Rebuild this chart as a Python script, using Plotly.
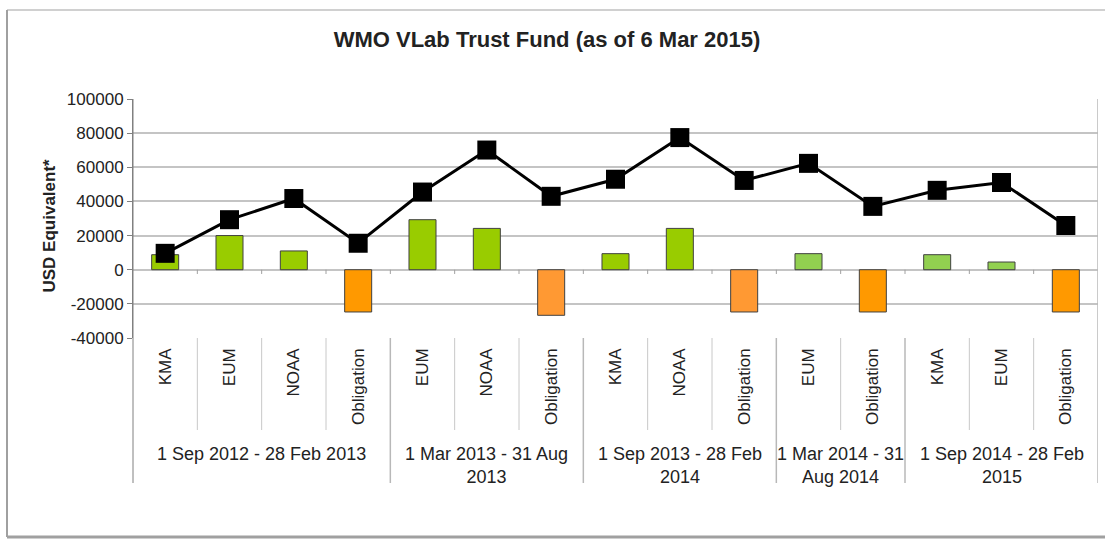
import plotly.graph_objects as go

# ---- data ----
categories = ["KMA", "EUM", "NOAA", "Obligation", "EUM", "NOAA", "Obligation",
              "KMA", "NOAA", "Obligation", "EUM", "Obligation", "KMA", "EUM", "Obligation"]
amounts = [8800, 20000, 11000, -24750, 29300, 24200, -26700,
           9400, 24200, -24750, 9400, -24750, 8800, 4500, -24750]
balance = [9600, 29300, 41700, 15500, 45500, 70100, 43000,
           53000, 77400, 52300, 62300, 37100, 46500, 51100, 25900]
periods = ["1 Sep 2012 - 28 Feb 2013", "1 Mar 2013 - 31 Aug<br>2013",
           "1 Sep 2013 - 28 Feb<br>2014", "1 Mar 2014 - 31<br>Aug 2014",
           "1 Sep 2014 - 28 Feb<br>2015"]
period_sizes = [4, 3, 3, 2, 3]
y_ticks = [-40000, -20000, 0, 20000, 40000, 60000, 80000, 100000]
y_tick_labels = [str(v) for v in y_ticks]

# ---- styles ----
bar_colors = ["#99cc00", "#99cc00", "#99cc00", "#ff9900", "#99cc00", "#99cc00", "#ff9933",
              "#99cc00", "#99cc00", "#ff9933", "#92d050", "#ff9900", "#92d050", "#92d050", "#ff9900"]
FONT = "Liberation Sans, Arial, sans-serif"
TXT = "#222222"

# plot area in pixels: left 133, right 1098, top 99, bottom 338
L, R, T, B = 133, 1098, 99, 338
PW, PH = R - L, B - T


def py(p):
    return (B - p) / PH


def px(p):
    return (p - L) / PW


x = list(range(len(categories)))

fig = go.Figure()
fig.add_trace(go.Bar(x=x, y=amounts, width=0.42,
                     marker=dict(color=bar_colors, line=dict(color="#404040", width=1)),
                     showlegend=False))
fig.add_trace(go.Scatter(x=x, y=balance, mode="lines+markers",
                         line=dict(color="black", width=3),
                         marker=dict(symbol="square", size=19, color="black"),
                         showlegend=False))

shapes = []
bounds = []
acc = 0
for s in period_sizes:
    acc += s
    bounds.append(acc)
for i in range(1, len(categories) + 1):
    xb = i - 0.5
    if i in bounds:
        shapes.append(dict(type="line", xref="x", yref="paper", x0=xb, x1=xb,
                           y0=0 if i < len(categories) else 1, y1=py(483),
                           line=dict(color="#b8b8b8", width=1.5)))
    else:
        shapes.append(dict(type="line", xref="x", yref="paper", x0=xb, x1=xb,
                           y0=0, y1=py(430), line=dict(color="#c8c8c8", width=1)))
    if i < len(categories):
        shapes.append(dict(type="line", xref="x", yref="y", x0=xb, x1=xb,
                           y0=0, y1=-2500, line=dict(color="#a0a0a0", width=1)))
# left axis extension
shapes.append(dict(type="line", xref="paper", yref="paper", x0=0, x1=0,
                   y0=1, y1=py(483), line=dict(color="#808080", width=1)))
# outer border
shapes.append(dict(type="line", xref="paper", yref="paper", x0=px(7), x1=px(1110),
                   y0=py(10), y1=py(10), line=dict(color="#d0d0d0", width=2)))
shapes.append(dict(type="line", xref="paper", yref="paper", x0=px(7), x1=px(7),
                   y0=py(10), y1=py(537), line=dict(color="#a0a0a0", width=2)))
shapes.append(dict(type="line", xref="paper", yref="paper", x0=px(7), x1=px(1110),
                   y0=py(537), y1=py(537), line=dict(color="#a0a0a0", width=3)))

annotations = []
start = 0
for label, s in zip(periods, period_sizes):
    center = start + (s - 1) / 2
    annotations.append(dict(x=center, xref="x", y=py(442), yref="paper",
                            text=label, showarrow=False, yanchor="top", xanchor="center",
                            font=dict(family=FONT, size=18, color=TXT)))
    start += s
annotations.append(dict(x=px(37), xref="paper", y=py(226), yref="paper",
                        text="<b>USD Equivalent*</b>", textangle=-90, showarrow=False,
                        font=dict(family=FONT, size=17, color=TXT)))

fig.update_layout(
    width=1105, height=542,
    margin=dict(l=L, r=1105 - R, t=T, b=542 - B),
    paper_bgcolor="white", plot_bgcolor="white",
    title=dict(text="<b>WMO VLab Trust Fund (as of 6 Mar 2015)</b>",
               x=547 / 1105, y=1 - 39 / 542, xanchor="center", yanchor="middle",
               font=dict(family=FONT, size=22, color=TXT)),
    shapes=shapes, annotations=annotations,
    xaxis=dict(range=[-0.5, 14.5], tickmode="array", tickvals=x, ticktext=categories,
               tickangle=-90, showgrid=False, zeroline=False, showline=False,
               ticks="", ticklabelstandoff=6,
               tickfont=dict(family=FONT, size=17, color=TXT), fixedrange=True),
    yaxis=dict(range=[-40000, 100000], tickmode="array", tickvals=y_ticks,
               ticktext=y_tick_labels, showgrid=True, gridcolor="#c4c4c4", gridwidth=1.5,
               zeroline=True, zerolinecolor="#c4c4c4", zerolinewidth=1.5,
               showline=True, linecolor="#808080", linewidth=1,
               ticks="outside", ticklen=5, tickcolor="#808080",
               tickfont=dict(family=FONT, size=17, color=TXT), fixedrange=True),
)

fig.write_html("out.html", config={"displayModeBar": False},
               post_script="document.body.style.margin='0';document.body.style.overflow='hidden';")
